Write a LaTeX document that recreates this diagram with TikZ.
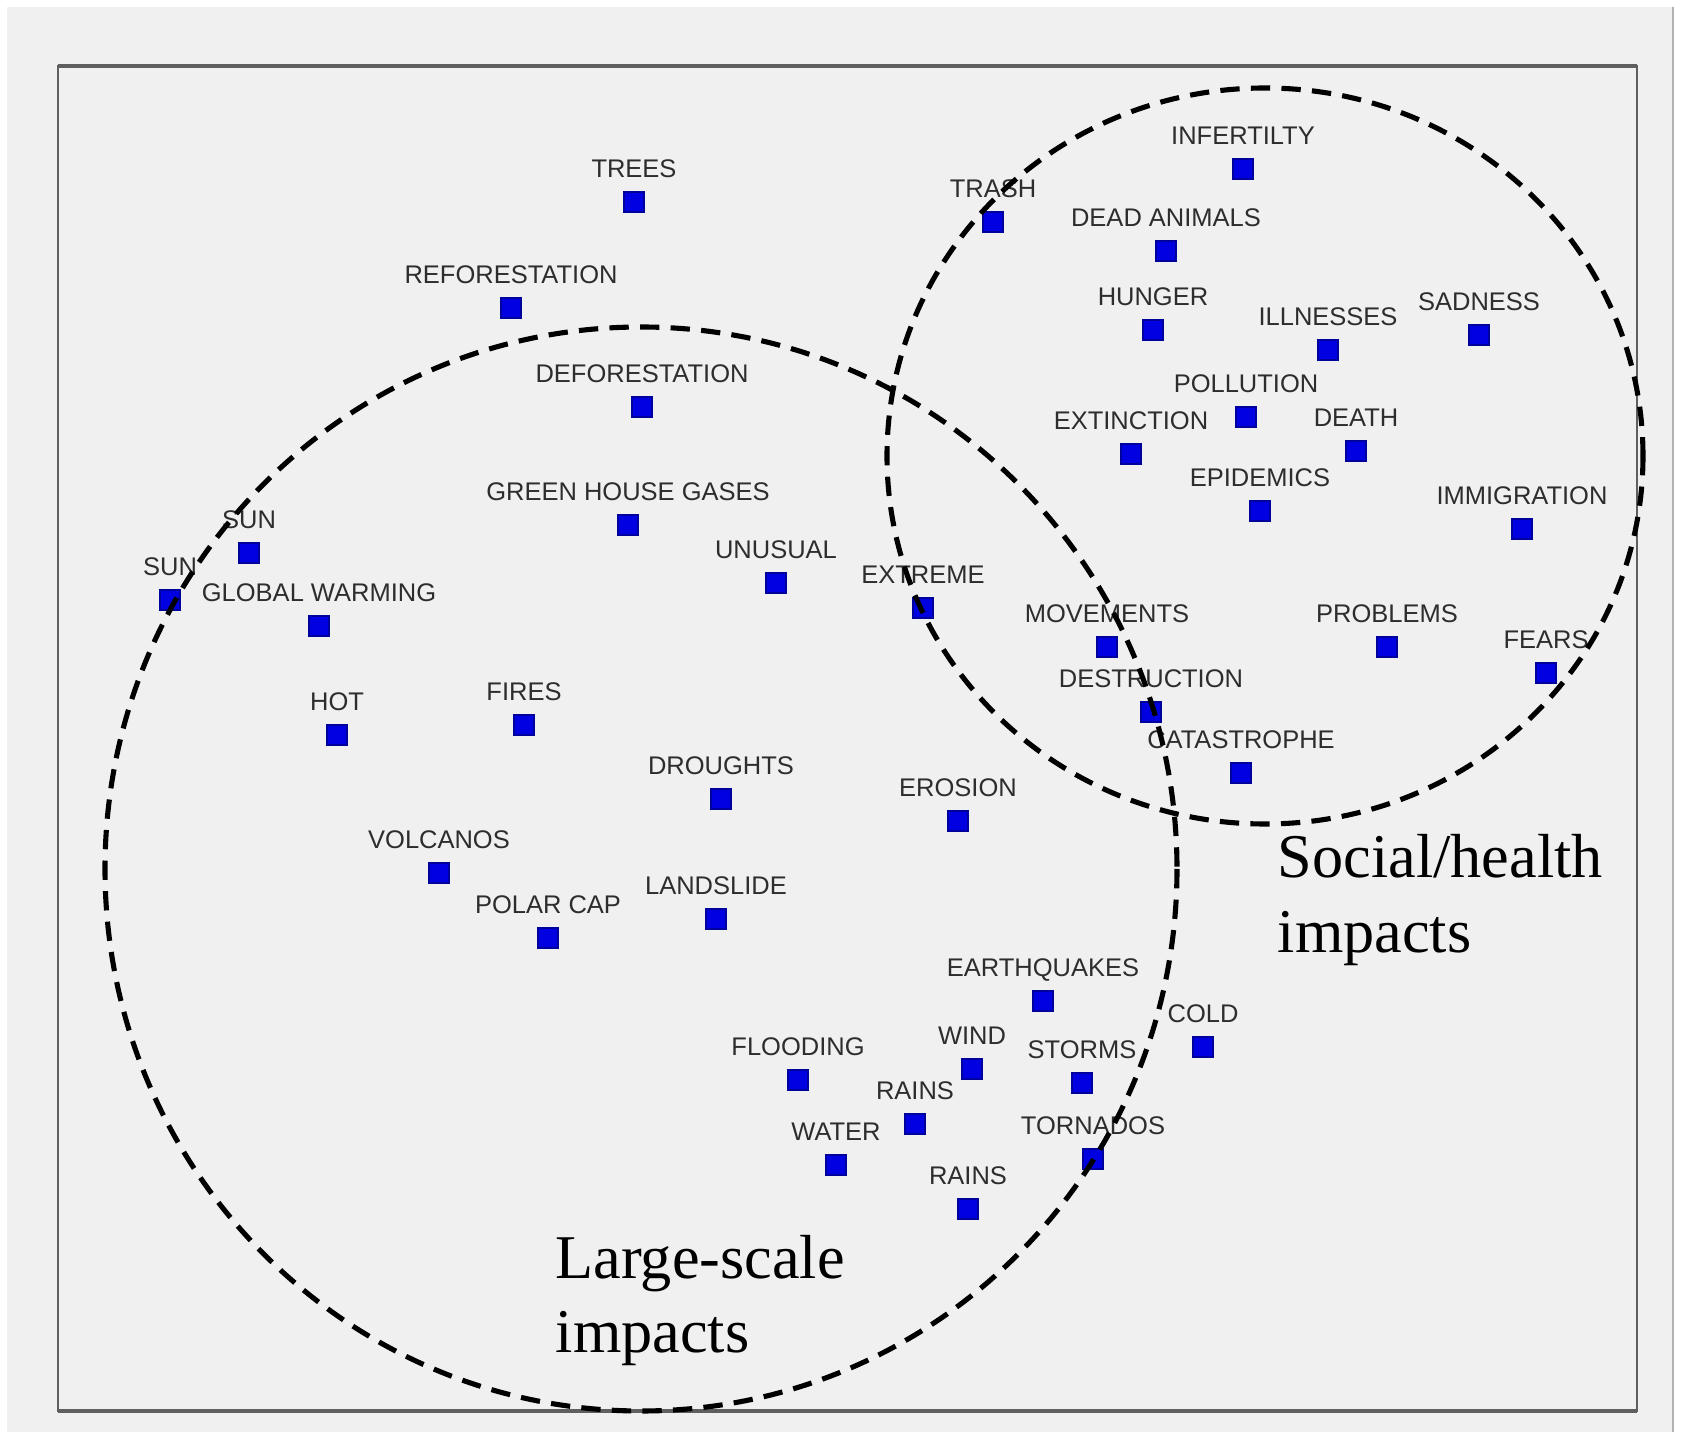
\documentclass[tikz,border=0pt]{standalone}
\usepackage{fontspec}
\newfontfamily\lblfont{Liberation Sans}
\newfontfamily\capfont{Liberation Serif}
\definecolor{mapbg}{RGB}{240,240,240}
\definecolor{mapframe}{RGB}{95,95,95}
\definecolor{maptext}{RGB}{45,45,45}
\definecolor{mapblue}{RGB}{0,0,225}
\usetikzlibrary{positioning}

\tikzset{
  pt/.style={draw=mapblue!70!black, fill=mapblue, line width=0.3pt, minimum size=0.2cm, inner sep=0pt},
  lbl/.style={text=maptext, font=\lblfont\fontsize{7.25}{8}\selectfont, inner sep=0pt, text depth=0pt},
  bigcap/.style={text=black, font=\capfont\fontsize{17.7}{21}\selectfont, inner sep=0pt, anchor=base west},
  zone/.style={black, line width=1.45pt, dash pattern=on 5.5pt off 3.2pt},
}

\begin{document}
\begin{tikzpicture}[x=0.01cm,y=-0.01cm]
\useasboundingbox (0,0) rectangle (1690,1437);
\fill[white] (0,0) rectangle (1690,1437);
\fill[mapbg] (7,7) rectangle (1674,1432);
\draw[gray!60, line width=0.4pt] (1673,7) -- (1673,1432);
\draw[mapframe, line width=0.8pt] (58,66) rectangle (1637,1411);
\draw[mapframe, line width=1.2pt] (58,66) -- (1637,66);
\draw[mapframe, line width=1.2pt] (58,1411) -- (1637,1411);

% word points
\foreach \idx/\px/\py/\txt in {%
1/634/202/TREES,%
2/511/308/REFORESTATION,%
3/642/407/DEFORESTATION,%
4/628/525/GREEN HOUSE GASES,%
5/249/553/SUN,%
6/170/600/SUN,%
7/319/626/GLOBAL WARMING,%
8/776/583/UNUSUAL,%
9/923/608/EXTREME,%
10/337/735/HOT,%
11/524/725/FIRES,%
12/721/799/DROUGHTS,%
13/958/821/EROSION,%
14/439/873/VOLCANOS,%
15/548/938/POLAR CAP,%
16/716/919/LANDSLIDE,%
17/1043/1001/EARTHQUAKES,%
18/1203/1047/COLD,%
19/798/1080/FLOODING,%
20/972/1069/WIND,%
21/1082/1083/STORMS,%
22/915/1124/RAINS,%
23/836/1165/WATER,%
24/1093/1159/TORNADOS,%
25/968/1209/RAINS,%
26/993/222/TRASH,%
27/1243/169/INFERTILTY,%
28/1166/251/DEAD ANIMALS,%
29/1153/330/HUNGER,%
30/1328/350/ILLNESSES,%
31/1479/335/SADNESS,%
32/1246/417/POLLUTION,%
33/1131/454/EXTINCTION,%
34/1356/451/DEATH,%
35/1260/511/EPIDEMICS,%
36/1522/529/IMMIGRATION,%
37/1107/647/MOVEMENTS,%
38/1387/647/PROBLEMS,%
39/1546/673/FEARS,%
40/1151/712/DESTRUCTION,%
41/1241/773/CATASTROPHE%
}{
  \node[pt] (m\idx) at (\px,\py) {};
  \node[lbl, above=0.135cm of m\idx] (t\idx) {\txt};
}

% the two groups
\draw[zone] (641,869) ellipse [x radius=536, y radius=542];
\draw[zone] (1265,456) ellipse [x radius=378, y radius=368];

\node[bigcap] (soc1) at (1277,878) {Social/health};
\node[bigcap] (soc2) at (1277,953) {impacts};
\node[bigcap] (lrg1) at (555,1278) {Large-scale};
\node[bigcap] (lrg2) at (555,1353) {impacts};
\end{tikzpicture}
\end{document}
